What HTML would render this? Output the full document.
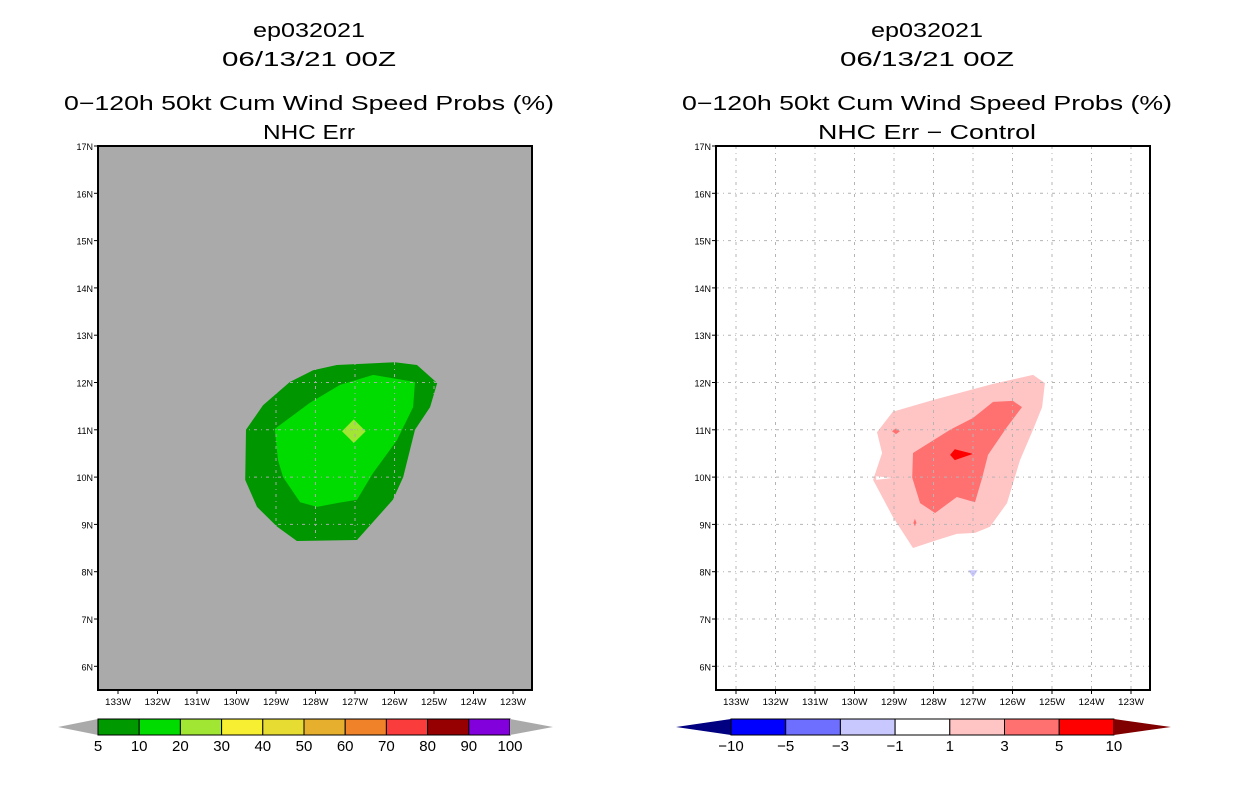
<!DOCTYPE html>
<html><head><meta charset="utf-8">
<style>
body{margin:0;background:#fff;width:1236px;height:800px;overflow:hidden}
svg text{font-family:"Liberation Sans",sans-serif;fill:#000}
</style></head>
<body>
<svg id="c" width="1236" height="800" viewBox="0 0 1236 800"></svg>
<script>
const NS="http://www.w3.org/2000/svg";
const svg=document.getElementById('c');
// ---- data ----
const lonTicks=[133,132,131,130,129,128,127,126,125,124,123];
const latTicks=[17,16,15,14,13,12,11,10,9,8,7,6];
const leftOuterLon=[127.46,125.99,125.43,124.92,125.10,125.48,125.78,126.04,126.95,128.47,128.97,129.48,129.78,129.76,129.33,128.65,128.06];
const leftOuterLat=[12.37,12.43,12.37,11.99,11.48,11.00,10.00,9.52,8.67,8.65,8.95,9.37,9.94,11.00,11.52,12.01,12.26];
const leftInnerLon=[129.03,128.14,127.38,126.54,125.48,125.53,125.94,126.54,126.95,127.46,127.96,128.39,128.82,128.95];
const leftInnerLat=[11.02,11.57,11.95,12.16,12.01,11.48,10.78,10.09,9.52,9.45,9.37,9.47,10.00,10.36];
const leftCoreLon=[127.03,126.73,127.03,127.33];
const leftCoreLat=[11.22,10.97,10.72,10.97];
const rightL1Lon=[129.03,128.01,126.49,125.48,125.18,125.25,125.48,125.81,126.14,126.57,126.95,127.41,127.91,128.52,129.03,129.53,129.30,129.43];
const rightL1Lat=[11.38,11.63,11.97,12.16,11.99,11.48,11.00,10.36,9.45,8.95,8.82,8.80,8.67,8.50,9.16,9.94,10.51,10.95];
const rightL2Lon=[128.52,127.58,127.00,126.49,125.99,125.76,126.14,126.62,126.77,126.95,127.41,127.96,128.34,128.54];
const rightL2Lat=[10.51,11.00,11.25,11.59,11.61,11.48,11.06,10.47,9.98,9.47,9.58,9.24,9.45,9.99];
const rightL3Lon=[127.58,127.46,127.00,127.46];
const rightL3Lat=[10.47,10.59,10.49,10.36];
const blobALon=[128.95,128.85,128.95,129.05];const blobALat=[11.03,10.97,10.91,10.97];
const blobBLon=[128.47,128.43,128.47,128.51];const blobBLat=[9.12,9.03,8.96,9.03];
const notchLon=[129.45,129.05,129.45];const notchLat=[10.02,9.98,9.94];
const blueLon=[127.12,126.88,127.0];const blueLat=[8.03,8.03,7.88];
const leftCbLabels=["5","10","20","30","40","50","60","70","80","90","100"];
const leftCbColors=["#009a00","#00dc00","#a0e632","#f7ef31","#e6dc32","#e6af2d","#f0822a","#fa3c3c","#960000","#8200dc"];
const rightCbLabels=["\u221210","\u22125","\u22123","\u22121","1","3","5","10"];
const rightCbColors=["#0000ff","#6e6eff","#c8c8ff","#ffffff","#ffc4c4","#ff7070","#ff0000"];
// ---- helpers ----
function el(t,a,p){const e=document.createElementNS(NS,t);for(const k in a)e.setAttribute(k,a[k]);(p||svg).appendChild(e);return e;}
function mk(x0){return {x:lon=>x0+(133-lon)*39.5, y:lat=>146+(17-lat)*47.3};}
function poly(ax,lons,lats,fill,name){
  const pts=lons.map((l,i)=>ax.x(l).toFixed(1)+","+ax.y(lats[i]).toFixed(1)).join(" ");
  const p=el('polygon',{points:pts,fill:fill});
  
  
}
function txt(x,y,s,size,anchor,name,len){
  const a={x:x,y:y,'font-size':size,'text-anchor':anchor||'middle'};
  if(len){a.textLength=len;a.lengthAdjust='spacingAndGlyphs';}
  const t=el('text',a);t.textContent=s;
  
  
  return t;}
function panel(fx,bg,side){
  const ax=mk(fx+20);
  const r=el('rect',{x:fx,y:146,width:434,height:544,fill:bg});
  
  
  return ax;
}
function frame(fx,ax,side,gc){
  lonTicks.forEach(l=>{
    const g=el('line',{x1:ax.x(l),x2:ax.x(l),y1:146,y2:690,stroke:gc,'stroke-dasharray':'3,4,1,4'});
    
    
    el('line',{x1:ax.x(l),x2:ax.x(l),y1:690,y2:694,stroke:'#000'});
    txt(ax.x(l),705,l+"W",9,'middle',side+'-x-tick-label',26);
  });
  latTicks.forEach(l=>{
    const g=el('line',{x1:fx,x2:fx+434,y1:ax.y(l),y2:ax.y(l),stroke:gc,'stroke-dasharray':'3,4,1,4'});
    
    
    el('line',{x1:fx-4,x2:fx,y1:ax.y(l),y2:ax.y(l),stroke:'#000'});
    txt(fx-5,ax.y(l)+4,l+"N",9,'end',side+'-y-tick-label');
  });
  const f=el('rect',{x:fx,y:146,width:434,height:544,fill:'none',stroke:'#000','stroke-width':2});
  
  
}
function titles(cx,l4,l4len,side){
  txt(cx,37,"ep032021",20,'middle',side+'-storm-title',112);
  txt(cx,66,"06/13/21 00Z",20,'middle',side+'-date-title',174);
  txt(cx,110,"0\u2212120h 50kt Cum Wind Speed Probs (%)",20,'middle',side+'-main-title',490);
  txt(cx,139,l4,20,'middle',side+'-subtitle',l4len);
}
// ---- left panel ----
const axL=panel(98,'#aaaaaa','left');
poly(axL,leftOuterLon,leftOuterLat,'#009600','left-contour-5-10');
poly(axL,leftInnerLon,leftInnerLat,'#00dc00','left-contour-10-20');
poly(axL,leftCoreLon,leftCoreLat,'#a0e632','left-contour-20-30');
frame(98,axL,'left','#aaaaaa');
titles(309,"NHC Err",92,'left');
(function(){
  const x0=98,w=41.2,y=719,h=16;
  const t1=el('polygon',{points:`58,727 ${x0},${y} ${x0},${y+h}`,fill:'#aaaaaa'});
  
  leftCbColors.forEach((c,i)=>{
    const r=el('rect',{x:x0+i*w,y:y,width:w,height:h,fill:c,stroke:'#000','stroke-width':1});
    
  });
  const xe=x0+leftCbColors.length*w;
  const t2=el('polygon',{points:`${xe},${y} ${xe+43},727 ${xe},${y+h}`,fill:'#aaaaaa'});
  
  leftCbLabels.forEach((s,i)=>txt(x0+i*w,751,s,15,'middle','left-colorbar-label'));
})();
// ---- right panel ----
const axR=panel(716,'#ffffff','right');
poly(axR,rightL1Lon,rightL1Lat,'#ffc4c4','right-contour-1-3');
poly(axR,notchLon,notchLat,'#ffffff','right-notch');
poly(axR,rightL2Lon,rightL2Lat,'#ff7070','right-contour-3-5');
poly(axR,rightL3Lon,rightL3Lat,'#ff0000','right-contour-5-10');
poly(axR,blobALon,blobALat,'#ff7070','right-blob-a');
poly(axR,blobBLon,blobBLat,'#ff7070','right-blob-b');
poly(axR,blueLon,blueLat,'#c8c8ff','right-negative-blob');
frame(716,axR,'right','#b4b4b4');
titles(927,"NHC Err \u2212 Control",218,'right');
(function(){
  const x0=731,w=54.7,y=719,h=16;
  const t1=el('polygon',{points:`676,727 ${x0},${y} ${x0},${y+h}`,fill:'#000080'});
  
  rightCbColors.forEach((c,i)=>{
    const r=el('rect',{x:x0+i*w,y:y,width:w,height:h,fill:c,stroke:'#000','stroke-width':1});
    
  });
  const xe=x0+rightCbColors.length*w;
  const t2=el('polygon',{points:`${xe},${y} ${xe+57},727 ${xe},${y+h}`,fill:'#800000'});
  
  rightCbLabels.forEach((s,i)=>txt(x0+i*w,751,s,15,'middle','right-colorbar-label'));
})();
</script>
</body></html>
